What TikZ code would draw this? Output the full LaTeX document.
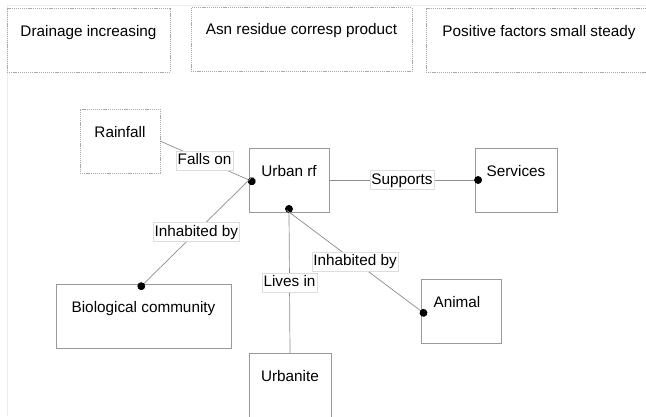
\documentclass[tikz,border=0pt]{standalone}
\usepackage{fontspec}
\setmainfont{Liberation Sans}
\usetikzlibrary{arrows.meta}
\definecolor{boxgray}{HTML}{9A9A9A}
\definecolor{dotgray}{HTML}{A8A8A8}
\definecolor{linegray}{HTML}{8C8C8C}
\definecolor{lblgray}{HTML}{DDDDDD}
\begin{document}
\begin{tikzpicture}[x=1pt,y=-1pt,
  every node/.style={font=\fontsize{15.3pt}{18pt}\selectfont},
  boxbase/.style={rectangle, inner sep=0pt, outer sep=0pt, line width=0.8pt},
  solidbox/.style={boxbase, draw=boxgray},
  dotbox/.style={boxbase, draw=dotgray, line width=0.6pt, dash pattern=on 1.2pt off 0.9pt},
  txt/.style={anchor=base, yshift=-28.5pt, inner sep=0pt},
  conn/.style={draw=linegray, line width=0.7pt},
  dotend/.style={-{Circle[length=7.8pt,width=7.8pt,fill=black,color=black]}, shorten >=-7pt},
  dotstart/.style={shorten <=-3pt},
  lbl/.style={fill=white, draw=lblgray, line width=0.4pt, inner xsep=1.5pt, inner ysep=2.5pt, text height=11pt, text depth=3pt}
]
\useasboundingbox (0,0) rectangle (646,416);
% faint frame
\draw[black!7, line width=0.6pt] (7,416) -- (7,5) -- (646,5);

% top boxes
\node[dotbox, minimum width=163pt, minimum height=64pt, label={[txt]north:Drainage increasing}] (drain) at (88.5,40) {};
\node[dotbox, minimum width=221pt, minimum height=64pt, label={[txt, yshift=1.5pt]north:Asn residue corresp product}] (asn) at (301.5,39.5) {};
\node[dotbox, minimum width=226pt, minimum height=64pt, label={[txt]north:Positive factors small steady}] (pos) at (539,40) {};

% main diagram
\node[dotbox, minimum width=80pt, minimum height=64pt, label={[txt]north:Rainfall}] (rain) at (120,141) {};
\node[solidbox, minimum width=80pt, minimum height=64pt, label={[txt]north:Urban rf}] (urban) at (289,180) {};
\node[solidbox, minimum width=82pt, minimum height=64pt, label={[txt]north:Services}] (serv) at (516,180) {};
\node[solidbox, minimum width=175pt, minimum height=64pt, label={[txt]north:Biological community}] (bio) at (143.5,316) {};
\node[solidbox, minimum width=80pt, minimum height=64pt, label={[txt, xshift=-4pt]north:Animal}] (animal) at (461,311) {};
\node[solidbox, minimum width=82pt, minimum height=64pt, label={[txt]north:Urbanite}] (urbanite) at (290,385) {};

% connectors
\draw[conn, dotend] (rain.east) -- node[lbl] {Falls on} (urban.west);
\draw[conn, dotend, dotstart] (urban.west) -- node[lbl] {Inhabited by} (bio.north);
\draw[conn, dotend] (urban.east) -- node[lbl] {Supports} (serv.west);
\draw[conn, dotend] (urbanite.north) -- node[lbl] {Lives in} (urban.south);
\draw[conn, dotend, dotstart] (urban.south) -- node[lbl] {Inhabited by} (animal.west);
\end{tikzpicture}
\end{document}
